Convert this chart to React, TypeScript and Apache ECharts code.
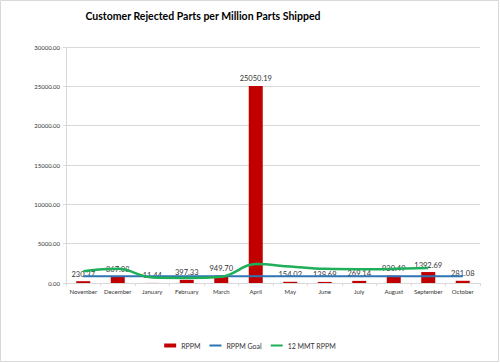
import React, { useEffect, useRef } from "react";
import * as echarts from "echarts";

const months = ["November", "December", "January", "February", "March", "April", "May", "June", "July", "August", "September", "October"];
const rppm = [230.37, 867.08, 11.44, 397.33, 949.7, 25050.19, 154.02, 138.69, 269.14, 930.49, 1392.69, 281.08];
const rppmGoal = [850, 850, 850, 850, 850, 850, 850, 850, 850, 850, 850, 850];
const mmt12 = [1500, 1800, 700, 650, 800, 2400, 2100, 1800, 1750, 1800, 1900, null];
const titleText = "Customer Rejected Parts per Million Parts Shipped";

const FONT = "Lato, 'Liberation Sans', sans-serif";
const LINE_ICON = "path://M0,0h0.01v0.01h-0.01Z M0,1H12V3H0Z M0,4h0.01v-0.01h-0.01Z";

export default function App() {
  const ref = useRef<HTMLDivElement>(null);
  useEffect(() => {
    if (!ref.current) return;
    const chart = echarts.init(ref.current, undefined, { renderer: "svg" });
    chart.setOption({
      animation: false,
      backgroundColor: "#ffffff",
      textStyle: { fontFamily: FONT },
      title: {
        text: titleText,
        left: 198,
        top: 5,
        textAlign: "center",
        textStyle: { fontSize: 10.5, fontWeight: "bold", color: "#000000", fontFamily: FONT },
      },
      graphic: [
        {
          type: "rect",
          shape: { x: 0.5, y: 0.5, width: 498, height: 361 },
          style: { fill: "none", stroke: "#d9d9d9", lineWidth: 1 },
          silent: true,
          z: -1,
        },
      ],
      legend: {
        bottom: 9,
        left: "center",
        itemGap: 9,
        itemTextGap: 1,
        itemWidth: 12,
        itemHeight: 4,
        textStyle: { fontSize: 7, color: "#333333", fontFamily: FONT },
        data: [
          { name: "RPPM", icon: "rect" },
          { name: "RPPM Goal", icon: LINE_ICON },
          { name: "12 MMT RPPM", icon: LINE_ICON },
        ],
      },
      grid: { left: 66, right: 20, top: 47, bottom: 80, containLabel: false },
      xAxis: {
        type: "category",
        data: months,
        boundaryGap: true,
        axisLine: { lineStyle: { color: "#d9d9d9" } },
        axisTick: { show: true, length: 3, lineStyle: { color: "#d9d9d9" } },
        axisLabel: { fontSize: 6, color: "#333333", margin: 5, interval: 0 },
      },
      yAxis: {
        type: "value",
        min: 0,
        max: 30000,
        interval: 5000,
        axisLine: { show: true, lineStyle: { color: "#d9d9d9" } },
        axisTick: { show: true, length: 3, lineStyle: { color: "#d9d9d9" } },
        splitLine: { lineStyle: { color: "#d9d9d9" } },
        axisLabel: {
          fontSize: 6,
          color: "#333333",
          margin: 6,
          formatter: (v: number) => v.toFixed(2),
        },
      },
      series: [
        {
          name: "RPPM",
          type: "bar",
          data: rppm,
          barWidth: 14,
          itemStyle: { color: "#c00000" },
          label: {
            show: true,
            position: "top",
            distance: 3,
            fontSize: 7.5,
            color: "#333333",
            formatter: (p: any) => Number(p.value).toFixed(2),
          },
          z: 2,
        },
        {
          name: "RPPM Goal",
          type: "line",
          data: rppmGoal,
          symbol: "none",
          lineStyle: { color: "#2e75b6", width: 2 },
          itemStyle: { color: "#2e75b6" },
          z: 3,
        },
        {
          name: "12 MMT RPPM",
          type: "line",
          data: mmt12,
          symbol: "none",
          smooth: 0.4,
          lineStyle: { color: "#1fae5a", width: 2.5 },
          itemStyle: { color: "#1fae5a" },
          z: 4,
        },
      ],
    });
    return () => chart.dispose();
  }, []);
  return (
    <div
      ref={ref}
      style={{ position: "fixed", left: 0, top: 0, width: 500, height: 363 }}
    />
  );
}
